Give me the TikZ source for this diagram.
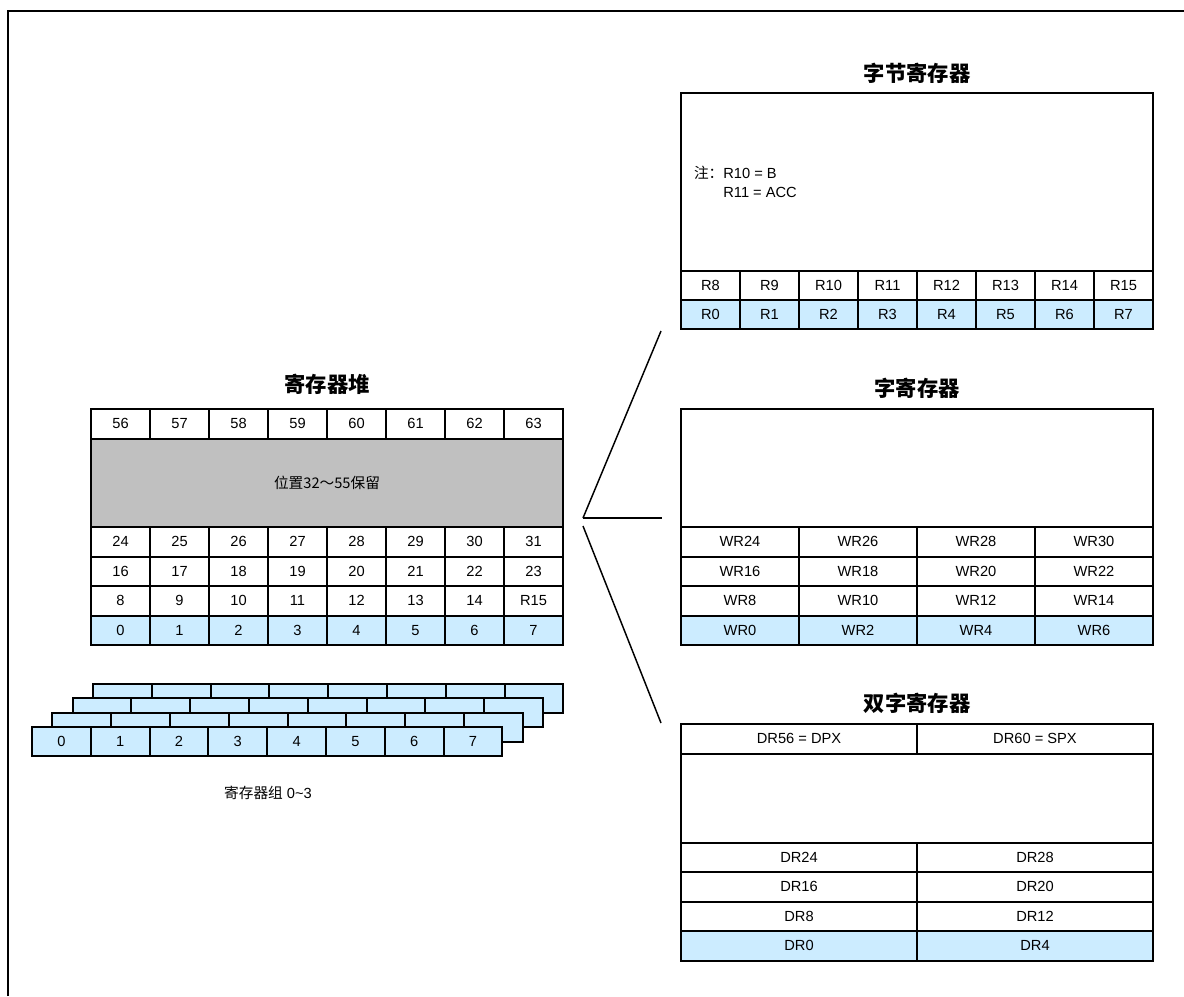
\documentclass[tikz,border=0pt]{standalone}
\usepackage{fontspec}
\setmainfont{Liberation Sans}
\newfontfamily\cjk{Noto Sans CJK SC}
\usetikzlibrary{positioning}
\usetikzlibrary{calc}
\usetikzlibrary{backgrounds}
\definecolor{regblue}{RGB}{204,236,255}
\definecolor{resgray}{RGB}{192,192,192}

\begin{document}
\begin{tikzpicture}[x=0.75pt, y=-0.75pt, line width=1.5pt,
    regcell/.style={draw, minimum width=#1*0.75pt, minimum height=29.5*0.75pt,
        inner sep=0pt, outer sep=0pt, anchor=north west,
        font=\fontsize{11}{13}\selectfont},
    blankbox/.style={draw, minimum width=472*0.75pt, minimum height=#1*0.75pt,
        inner sep=0pt, outer sep=0pt, anchor=north west},
    title/.style={font=\cjk\bfseries\fontsize{16}{19}\selectfont}]
    \useasboundingbox (0,0) rectangle (1184,996);
    \draw[line width=1.6pt] (8,996) -- (8,11) -- (1184,11);

    % register file
    \node[title] (heaptitle) at (327,384) {寄存器堆};
    \foreach \c in {0,...,7} {
        \pgfmathtruncatemacro\n{56+\c}
        \node[regcell=59] (h7-\c) at (91+59*\c,409) {\n};
    }
    \node[blankbox=88.5, font=\cjk\fontsize{11}{13}\selectfont]
        (hres) at (91,438.5) {位置32～55保留};
    \foreach \r in {1,2,3} {
        \foreach \c in {0,...,7} {
            \pgfmathtruncatemacro\n{8*\r+\c}
            \ifnum\n=15 \def\lbl{R15}\else\let\lbl\n\fi
            \node[regcell=59] (h\r-\c) at (91+59*\c,615.5-29.5*\r) {\lbl};
        }
    }
    \foreach \c in {0,...,7}
        \node[regcell=59] (h0-\c) at (91+59*\c,615.5) {\c};

    % banks 0~3
    \foreach \k in {3,2,1} {
        \fill[regblue] (32+20.3*\k,727-14.4*\k) rectangle ++(470.4,29);
        \foreach \c in {0,...,7}
            \node[regcell=58.8, minimum height=29*0.75pt]
                (bk\k-\c) at (32+20.3*\k+58.8*\c,727-14.4*\k) {};
    }
    \fill[regblue] (32,727) rectangle ++(470.4,29);
    \foreach \c in {0,...,7}
        \node[regcell=58.8, minimum height=29*0.75pt]
            (bk0-\c) at (32+58.8*\c,727) {\c};
    \node[font=\fontsize{11}{13}\selectfont] (banklabel) at (268,793)
        {{\cjk 寄存器组} 0\textasciitilde3};

    % byte registers
    \node[title] (bytetitle) at (917,73) {字节寄存器};
    \node[blankbox=178] (bytebox) at (681,93) {};
    \node[anchor=north west, align=left, inner sep=0pt,
        font=\fontsize{11}{14.5}\selectfont] (bytenote) at (693,165)
        {{\cjk 注：}R10 = B\\\phantom{\cjk 注：}R11 = ACC};
    \foreach \c in {0,...,7} {
        \pgfmathtruncatemacro\n{8+\c}
        \node[regcell=59, minimum height=29*0.75pt] (b1-\c) at (681+59*\c,271) {R\n};
        \node[regcell=59, minimum height=29*0.75pt] (b0-\c) at (681+59*\c,300) {R\c};
    }

    % word registers
    \node[title] (wordtitle) at (917,388) {字寄存器};
    \node[blankbox=118] (wordbox) at (681,409) {};
    \foreach \r in {1,2,3} {
        \foreach \c in {0,...,3} {
            \pgfmathtruncatemacro\n{8*\r+2*\c}
            \node[regcell=118] (w\r-\c) at (681+118*\c,615.5-29.5*\r) {WR\n};
        }
    }
    \foreach \c in {0,...,3} {
        \pgfmathtruncatemacro\n{2*\c}
        \node[regcell=118] (w0-\c) at (681+118*\c,615.5) {WR\n};
    }

    % double word registers
    \node[title] (dwordtitle) at (917,703) {双字寄存器};
    \node[regcell=236] (d7-0) at (681,724) {DR56 = DPX};
    \node[regcell=236] (d7-1) at (917,724) {DR60 = SPX};
    \node[blankbox=89] (dwordbox) at (681,753.5) {};
    \foreach \r in {1,2,3} {
        \foreach \c in {0,1} {
            \pgfmathtruncatemacro\n{8*\r+4*\c}
            \node[regcell=236] (d\r-\c) at (681+236*\c,931-29.5*\r) {DR\n};
        }
    }
    \foreach \c in {0,1} {
        \pgfmathtruncatemacro\n{4*\c}
        \node[regcell=236] (d0-\c) at (681+236*\c,931) {DR\n};
    }

    % fills behind the cells
    \begin{scope}[on background layer]
        \fill[resgray] (hres.north west) rectangle (hres.south east);
        \fill[regblue] (h0-0.north west) rectangle (h0-7.south east);
        \fill[regblue] (b0-0.north west) rectangle (b0-7.south east);
        \fill[regblue] (w0-0.north west) rectangle (w0-3.south east);
        \fill[regblue] (d0-0.north west) rectangle (d0-1.south east);
    \end{scope}

    % fan lines
    \coordinate (fanup) at ($(hres.south east)+(20,-9)$);
    \coordinate (fanlow) at ($(hres.south east)+(20,-1)$);
    \coordinate (byteend) at ($(b0-0.south west)+(-20,2)$);
    \coordinate (wordend) at ($(wordbox.south west)+(-19,-9)$);
    \coordinate (dwordend) at ($(d7-0.north west)+(-20,-1)$);
    \draw[line width=1.1pt] (fanup) -- (byteend);
    \draw[line width=1.1pt] (fanup) -- (wordend);
    \draw[line width=1.1pt] (fanlow) -- (dwordend);
\end{tikzpicture}
\end{document}
